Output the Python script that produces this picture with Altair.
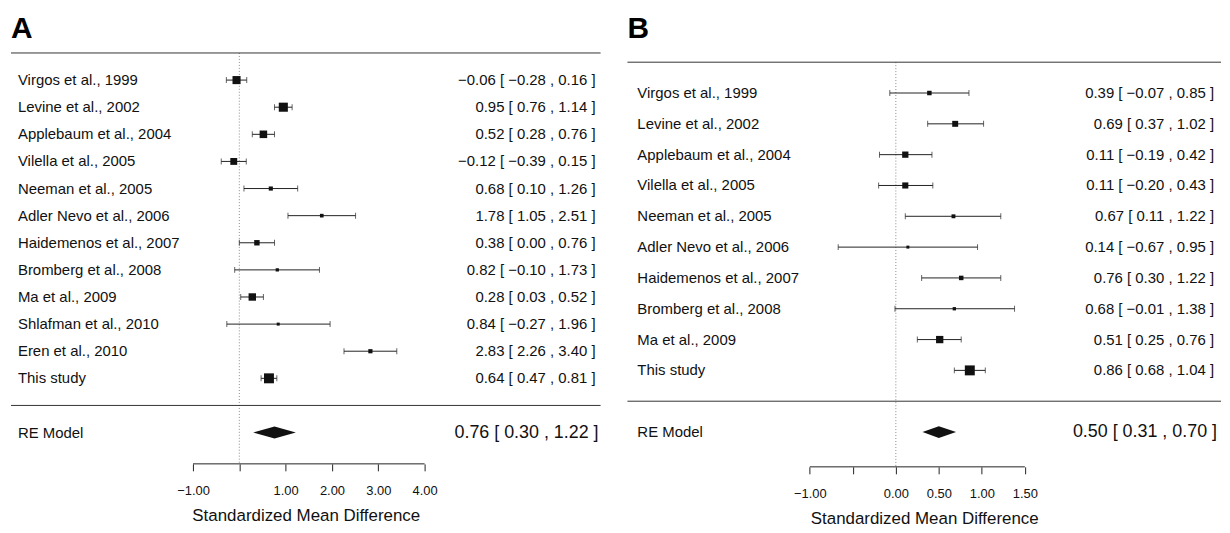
import altair as alt
import pandas as pd

FONT = "Liberation Sans"

# ---------------- data ----------------
A_STUDIES = ["Virgos et al., 1999", "Levine et al., 2002", "Applebaum et al., 2004",
             "Vilella et al., 2005", "Neeman et al., 2005", "Adler Nevo et al., 2006",
             "Haidemenos et al., 2007", "Bromberg et al., 2008", "Ma et al., 2009",
             "Shlafman et al., 2010", "Eren et al., 2010", "This study"]
A_EST = [-0.06, 0.95, 0.52, -0.12, 0.68, 1.78, 0.38, 0.82, 0.28, 0.84, 2.83, 0.64]
A_LB = [-0.28, 0.76, 0.28, -0.39, 0.10, 1.05, 0.00, -0.10, 0.03, -0.27, 2.26, 0.47]
A_UB = [0.16, 1.14, 0.76, 0.15, 1.26, 2.51, 0.76, 1.73, 0.52, 1.96, 3.40, 0.81]
A_RE = [0.76, 0.30, 1.22]
A_TICKS = [-1, 0, 1, 2, 3, 4]
A_TICK_LABELS = ["\u22121.00", "", "1.00", "2.00", "3.00", "4.00"]

B_STUDIES = ["Virgos et al., 1999", "Levine et al., 2002", "Applebaum et al., 2004",
             "Vilella et al., 2005", "Neeman et al., 2005", "Adler Nevo et al., 2006",
             "Haidemenos et al., 2007", "Bromberg et al., 2008", "Ma et al., 2009",
             "This study"]
B_EST = [0.39, 0.69, 0.11, 0.11, 0.67, 0.14, 0.76, 0.68, 0.51, 0.86]
B_LB = [-0.07, 0.37, -0.19, -0.20, 0.11, -0.67, 0.30, -0.01, 0.25, 0.68]
B_UB = [0.85, 1.02, 0.42, 0.43, 1.22, 0.95, 1.22, 1.38, 0.76, 1.04]
B_RE = [0.50, 0.31, 0.70]
B_TICKS = [-1, -0.5, 0, 0.5, 1, 1.5]
B_TICK_LABELS = ["\u22121.00", "", "0.00", "0.50", "1.00", "1.50"]

X_TITLE = "Standardized Mean Difference"


def fmt(v):
    return f"{v:.2f}".replace("-", "\u2212")


def label_expr(ticks, labels):
    expr = "''"
    for t, l in reversed(list(zip(ticks, labels))):
        expr = f"datum.value == {t} ? '{l}' : ({expr})"
    return expr


def panel(letter, studies, est, lb, ub, re, ticks, tick_labels,
          xdom, ydom, width, height, label_x, text_right, dia_h, letter_y):
    k = len(studies)
    df = pd.DataFrame({"study": studies, "est": est, "lb": lb, "ub": ub})
    df["row"] = list(range(k, 0, -1))
    w = 1.0 / ((df["ub"] - df["lb"]) / 3.92)
    side = 3 + 7 * (w - w.min()) / (w.max() - w.min())
    df["area"] = side ** 2
    df["txt"] = [f"{fmt(e)} [ {fmt(l)} , {fmt(u)} ]" for e, l, u in zip(est, lb, ub)]

    xs = alt.Scale(domain=xdom, nice=False, zero=False)
    ys = alt.Scale(domain=ydom, nice=False, zero=False)

    base = alt.Chart(df)

    zero = alt.Chart(pd.DataFrame({"x": [0], "top": [k + 1]})).mark_rule(
        color="#8a8a8a", strokeDash=[1, 2], strokeWidth=1
    ).encode(
        x=alt.X("x:Q", scale=xs, title=X_TITLE,
                axis=alt.Axis(values=ticks, labelExpr=label_expr(ticks, tick_labels),
                              domain=False, grid=False, tickSize=7, tickColor="#222",
                              tickWidth=1, labelFontSize=13, labelFont=FONT,
                              labelColor="#111", labelPadding=14, labelFlush=False,
                              titleFont=FONT, titleFontSize=17, titleFontWeight="normal",
                              titleColor="#111", titlePadding=10)),
        y=alt.Y("top:Q", scale=ys, axis=None),
        y2=alt.value(height),
    )

    seps = alt.Chart(pd.DataFrame({"r": [k + 1, 0]})).mark_rule(
        color="#333", strokeWidth=1
    ).encode(y=alt.Y("r:Q", scale=ys, axis=None), x=alt.value(0), x2=alt.value(width))

    axis_line = alt.Chart(pd.DataFrame({"a": [min(ticks)], "b": [max(ticks)]})).mark_rule(
        color="#222", strokeWidth=1
    ).encode(x=alt.X("a:Q", scale=xs), x2="b:Q", y=alt.value(height))

    ci = base.mark_rule(color="#222", strokeWidth=1).encode(
        x=alt.X("lb:Q", scale=xs), x2="ub:Q", y=alt.Y("row:Q", scale=ys, axis=None))
    tick_l = base.mark_tick(orient="vertical", size=6, thickness=1, color="#222").encode(
        x=alt.X("lb:Q", scale=xs), y=alt.Y("row:Q", scale=ys, axis=None))
    tick_u = base.mark_tick(orient="vertical", size=6, thickness=1, color="#222").encode(
        x=alt.X("ub:Q", scale=xs), y=alt.Y("row:Q", scale=ys, axis=None))
    pts = base.mark_square(color="#111", opacity=1).encode(
        x=alt.X("est:Q", scale=xs), y=alt.Y("row:Q", scale=ys, axis=None),
        size=alt.Size("area:Q", scale=None, legend=None))

    names = base.mark_text(align="left", baseline="middle", font=FONT, fontSize=15,
                           color="#111").encode(
        x=alt.value(label_x), y=alt.Y("row:Q", scale=ys, axis=None), text="study:N")
    vals = base.mark_text(align="right", baseline="middle", font=FONT, fontSize=15,
                          color="#111").encode(
        x=alt.value(text_right), y=alt.Y("row:Q", scale=ys, axis=None), text="txt:N")

    re_est, re_lb, re_ub = re
    dia = alt.Chart(pd.DataFrame({"x": [re_lb, re_est, re_ub],
                                  "y": [-1, -1 + dia_h, -1],
                                  "y2": [-1, -1 - dia_h, -1]})).mark_area(
        color="#111", opacity=1
    ).encode(x=alt.X("x:Q", scale=xs), y=alt.Y("y:Q", scale=ys, axis=None), y2="y2:Q")

    re_df = pd.DataFrame({"r": [-1], "name": ["RE Model"],
                          "txt": [f"{fmt(re_est)} [ {fmt(re_lb)} , {fmt(re_ub)} ]"]})
    re_name = alt.Chart(re_df).mark_text(align="left", baseline="middle", font=FONT,
                                         fontSize=15, color="#111").encode(
        x=alt.value(label_x), y=alt.Y("r:Q", scale=ys, axis=None), text="name:N")
    re_val = alt.Chart(re_df).mark_text(align="right", baseline="middle", font=FONT,
                                        fontSize=18, color="#111").encode(
        x=alt.value(text_right + 3), y=alt.Y("r:Q", scale=ys, axis=None), text="txt:N")

    title_df = pd.DataFrame({"t": [letter]})
    title = alt.Chart(title_df).mark_text(align="left", baseline="alphabetic", font=FONT,
                                          fontSize=30, fontWeight="bold",
                                          color="#000").encode(
        x=alt.value(0), y=alt.value(letter_y), text="t:N")

    return alt.layer(zero, seps, axis_line, ci, tick_l, tick_u, pts, dia,
                     names, vals, re_name, re_val, title).properties(
        width=width, height=height)


pa = panel("A", A_STUDIES, A_EST, A_LB, A_UB, A_RE, A_TICKS, A_TICK_LABELS,
           xdom=[-4.93, 7.80], ydom=[-2.155, 14.604], width=593, height=457,
           label_x=7, text_right=588, dia_h=0.22, letter_y=29)
pb = panel("B", B_STUDIES, B_EST, B_LB, B_UB, B_RE, B_TICKS, B_TICK_LABELS,
           xdom=[-3.12, 3.78], ydom=[-2.13, 12.71], width=597, height=460,
           label_x=10, text_right=590, dia_h=0.19, letter_y=29)

chart = alt.hconcat(pa, pb, spacing=25).properties(
    padding={"left": 2, "top": 0, "right": 0, "bottom": 0}
).configure(background="white").configure_view(stroke=None)

chart.save("out.html", embed_options={"renderer": "svg", "actions": False})
